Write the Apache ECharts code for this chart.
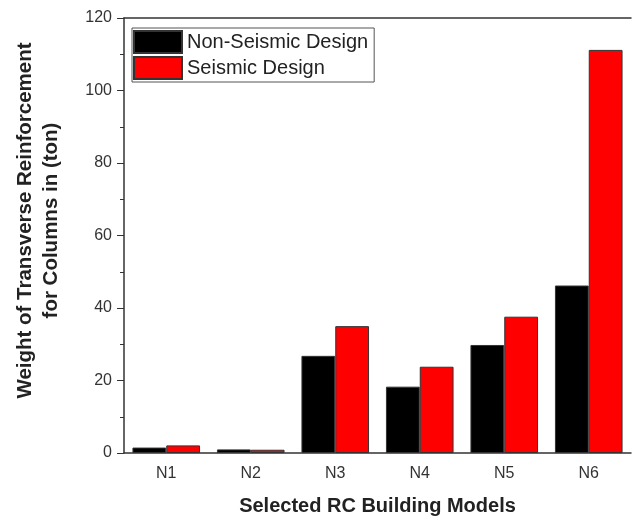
<!DOCTYPE html>
<html>
<head>
<meta charset="utf-8">
<script src="https://cdn.jsdelivr.net/npm/echarts@6/dist/echarts.min.js"></script>
<style>
html, body { margin: 0; padding: 0; background: #fff; }
#chart { width: 632px; height: 516px; }
</style>
</head>
<body>
<div id="chart"></div>
<script>
var models = ['N1', 'N2', 'N3', 'N4', 'N5', 'N6'];
var nonSeismic = [1.5, 1.0, 26.8, 18.3, 29.8, 46.2];
var seismic = [2.1, 0.9, 35.0, 23.8, 37.6, 111.2];

var chart = echarts.init(document.getElementById('chart'));
var fontFam = '"Liberation Sans", Arial, sans-serif';

var option = {
	animation : false,
	textStyle : { fontFamily : fontFam },
	grid : {
		left : 124,
		right : 1,
		top : 18,
		bottom : 63,
		containLabel : false,
		outerBoundsMode : 'none'
	},
	legend : {
		orient : 'vertical',
		left : 132,
		top : 28,
		itemWidth : 48,
		itemHeight : 22,
		itemGap : 2,
		padding : [ 2, 6, 2, 1 ],
		borderColor : '#555',
		borderWidth : 1,
		icon : 'rect',
		textStyle : { fontSize : 20, color : '#222', fontFamily : fontFam },
		data : [ 'Non-Seismic Design', 'Seismic Design' ]
	},
	xAxis : [ {
		type : 'category',
		data : models,
		name : 'Selected RC Building Models',
		nameLocation : 'middle',
		nameGap : 43,
		nameTextStyle : { fontSize : 20, fontWeight : 'bold', color : '#222' },
		axisLine : { lineStyle : { color : '#333', width : 1.5 } },
		axisTick : { alignWithLabel : true, length : 7, lineStyle : { color : '#333' } },
		axisLabel : { fontSize : 16, color : '#333', margin : 13 }
	}, {
		// boundary ticks
		type : 'category',
		data : models,
		position : 'bottom',
		axisLine : { show : false },
		axisTick : { length : 4, lineStyle : { color : '#333' } },
		axisLabel : { show : false }
	}, {
		// top frame line
		type : 'category',
		data : models,
		position : 'top',
		axisLine : { lineStyle : { color : '#333', width : 1.5 } },
		axisTick : { show : false },
		axisLabel : { show : false }
	} ],
	yAxis : [ {
		type : 'value',
		min : 0,
		max : 120,
		interval : 20,
		name : 'Weight of Transverse Reinforcement\nfor Columns in (ton)',
		nameLocation : 'middle',
		nameGap : 60,
		nameTextStyle : { fontSize : 20.5, fontWeight : 'bold', color : '#222', lineHeight : 26, padding : [ 0, 0, 0, 30 ] },
		axisLine : { show : true, lineStyle : { color : '#333', width : 1.5 } },
		axisTick : { show : true, length : 7, lineStyle : { color : '#333' } },
		minorTick : { show : true, splitNumber : 2, length : 4, lineStyle : { color : '#333' } },
		axisLabel : { fontSize : 16, color : '#333', margin : 12 },
		splitLine : { show : false }
	} ],
	series : [ {
		name : 'Non-Seismic Design',
		type : 'bar',
		barGap : '0%',
		barCategoryGap : '20%',
		itemStyle : { color : '#000', borderColor : '#333', borderWidth : 1 },
		data : nonSeismic
	}, {
		name : 'Seismic Design',
		type : 'bar',
		barGap : '0%',
		barCategoryGap : '20%',
		itemStyle : { color : '#ff0000', borderColor : '#333', borderWidth : 1 },
		data : seismic
	} ]
};
chart.setOption(option);
</script>
</body>
</html>
